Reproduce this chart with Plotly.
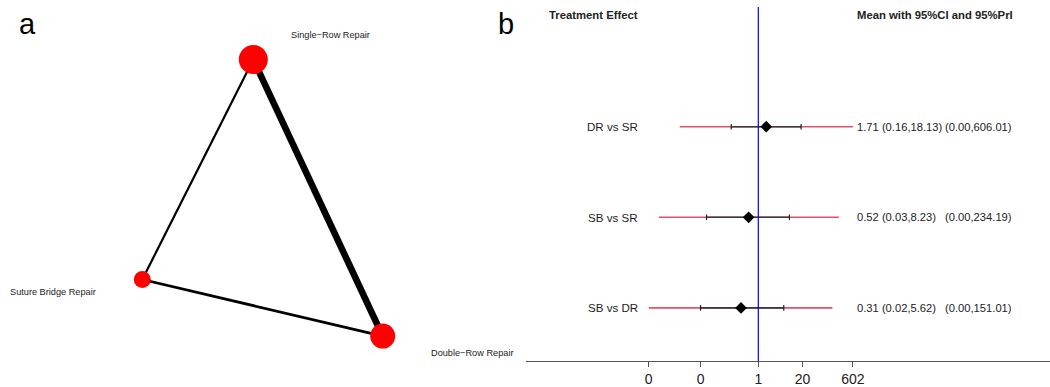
import plotly.graph_objects as go

# ---------------- data ----------------
# Panel a: network of treatments
node_names = ["Single\u2212Row Repair", "Suture Bridge Repair", "Double\u2212Row Repair"]
node_x = [253.3, 142.3, 382.7]          # network layout coordinates
node_y = [60.0, 281.7, 338.7]
node_weight = [29, 17, 25]              # node size (relative sample size)
edge_from = [0, 0, 1]
edge_to = [1, 2, 2]
edge_studies = [1, 3, 1.25]             # edge thickness weight

# Panel b: forest plot
comparisons = ["DR vs SR", "SB vs SR", "SB vs DR"]
mean_vals = [1.71, 0.52, 0.31]
ci_lo = [0.16, 0.03, 0.02]
ci_hi = [18.13, 8.23, 5.62]
pri_lo = [0.0049, 0.0012, 0.0006]
pri_hi = [606.01, 234.19, 151.01]
tick_vals = [0.0006, 0.02, 1, 20, 602]
tick_text = ["0", "0", "1", "20", "602"]

W, H = 1050, 387
FONT = "Arial, Liberation Sans, sans-serif"


def px(x):
    return x / W


def py(y):
    return 1 - y / H


fig = go.Figure()

# ---------------- panel a ----------------
for f, t, w in zip(edge_from, edge_to, edge_studies):
    fig.add_trace(go.Scatter(
        x=[node_x[f], node_x[t]], y=[node_y[f], node_y[t]],
        mode="lines", line=dict(color="black", width=2.2 * w),
        hoverinfo="skip", showlegend=False, xaxis="x", yaxis="y"))
fig.add_trace(go.Scatter(
    x=node_x, y=node_y, mode="markers",
    marker=dict(size=node_weight, color="#FF0000", opacity=1, line=dict(width=0)),
    showlegend=False, xaxis="x", yaxis="y"))

label_pos = [(290.0, 35.3), (8.5, 294.3), (430.0, 356.0)]
for name, (lx, ly) in zip(node_names, label_pos):
    fig.add_annotation(x=px(lx), y=py(ly), xref="paper", yref="paper",
                       text=name, showarrow=False, xanchor="left", yanchor="middle",
                       borderpad=0,
                       font=dict(family=FONT, size=9.2, color="#222"))

# ---------------- panel b ----------------
RED = "#DF536B"
for i in range(len(comparisons)):
    fig.add_trace(go.Scatter(
        x=[pri_lo[i], pri_hi[i]], y=[i, i], mode="lines",
        line=dict(color=RED, width=1.6), showlegend=False,
        xaxis="x2", yaxis="y2", hoverinfo="skip"))
    fig.add_trace(go.Scatter(
        x=[ci_lo[i], ci_hi[i]], y=[i, i], mode="lines+markers",
        line=dict(color="#3a3a3a", width=1.6),
        marker=dict(symbol="line-ns", size=4, line=dict(width=1.2, color="#222")),
        showlegend=False, xaxis="x2", yaxis="y2", hoverinfo="skip"))
    fig.add_trace(go.Scatter(
        x=[mean_vals[i]], y=[i], mode="markers",
        marker=dict(symbol="diamond", size=9, color="black", opacity=1),
        showlegend=False, xaxis="x2", yaxis="y2"))

row_px = [127.7, 219.0, 310.3]
TXT = 11.2
for i, name in enumerate(comparisons):
    fig.add_annotation(x=px(639), y=py(row_px[i]), xref="paper", yref="paper",
                       text=name, showarrow=False, xanchor="right", yanchor="middle",
                       borderpad=0,
                       font=dict(family=FONT, size=11.6, color="#222"))
    fig.add_annotation(x=px(856), y=py(row_px[i]), xref="paper", yref="paper",
                       text=f"{mean_vals[i]:.2f} ({ci_lo[i]:.2f},{ci_hi[i]:.2f})",
                       showarrow=False, xanchor="left", yanchor="middle",
                       borderpad=0,
                       font=dict(family=FONT, size=TXT, color="#222"))
    fig.add_annotation(x=px(943.5), y=py(row_px[i]), xref="paper", yref="paper",
                       text=f"({pri_lo[i]:.2f},{pri_hi[i]:.2f})",
                       showarrow=False, xanchor="left", yanchor="middle",
                       borderpad=0,
                       font=dict(family=FONT, size=TXT, color="#222"))

fig.add_annotation(x=px(547.5), y=py(15), xref="paper", yref="paper",
                   text="<b>Treatment Effect</b>", showarrow=False,
                   xanchor="left", yanchor="middle", borderpad=0,
                   font=dict(family=FONT, size=11.3, color="#222"))
fig.add_annotation(x=px(856), y=py(15), xref="paper", yref="paper",
                   text="<b>Mean with 95%CI and 95%PrI</b>", showarrow=False,
                   xanchor="left", yanchor="middle", borderpad=0,
                   font=dict(family=FONT, size=11.3, color="#222"))

# panel letters
fig.add_annotation(x=px(27.5), y=py(24), xref="paper", yref="paper", text="a",
                   showarrow=False, xanchor="center", yanchor="middle",
                   font=dict(family=FONT, size=29, color="black"))
fig.add_annotation(x=px(505.5), y=py(24), xref="paper", yref="paper", text="b",
                   showarrow=False, xanchor="center", yanchor="middle",
                   font=dict(family=FONT, size=29, color="black"))

# reference line at 1
fig.add_shape(type="line", xref="x2", yref="paper", x0=1, x1=1,
              y0=py(364), y1=py(7), line=dict(color="#0000FF", width=1.2))

# axes geometry
x1_left = 526.0
scale = 34.0        # pixels per decade
one_px = 758.3
rng_lo = (x1_left - one_px) / scale
rng_hi = (W - one_px) / scale
y_top_idx = (0 - row_px[0]) / (row_px[1] - row_px[0])
y_bot_idx = (364 - row_px[0]) / (row_px[1] - row_px[0])

fig.update_layout(
    width=W, height=H,
    margin=dict(l=0, r=0, t=0, b=0),
    paper_bgcolor="white", plot_bgcolor="white",
    showlegend=False,
    xaxis=dict(domain=[0, px(472.5)], range=[0, 472.5], visible=False),
    yaxis=dict(domain=[0, 1], range=[H, 0], visible=False),
    xaxis2=dict(domain=[px(x1_left), 1], type="log", range=[rng_lo, rng_hi],
                anchor="y2", showgrid=False, zeroline=False,
                showline=True, linecolor="#555", linewidth=1.2,
                ticks="outside", ticklen=5, tickcolor="#555", tickwidth=1,
                tickvals=tick_vals, ticktext=tick_text,
                tickfont=dict(family=FONT, size=14, color="#222")),
    yaxis2=dict(domain=[py(364), 1], range=[y_bot_idx, y_top_idx],
                anchor="x2", visible=False),
)

fig.write_html("out.html", config={"displayModeBar": False},
               post_script="document.body.style.margin='0';document.body.style.overflow='hidden';")
